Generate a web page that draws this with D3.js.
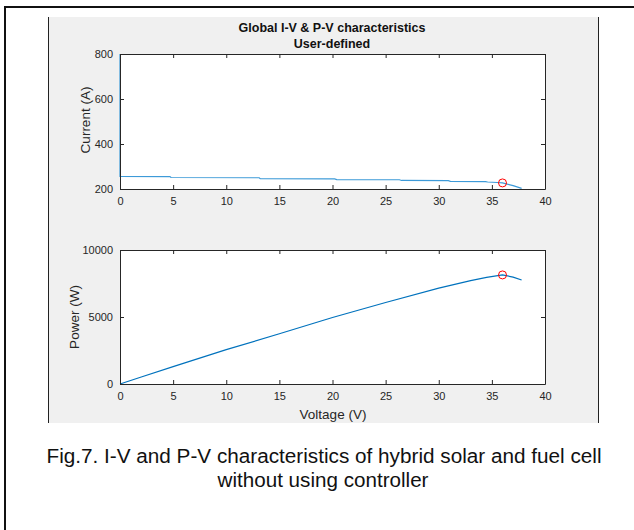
<!DOCTYPE html>
<meta charset="utf-8">
<style>
body { margin: 0; background: #fff; }
svg text { font-family: "Liberation Sans", Arial, sans-serif; }
.tick text { fill: #262626; font-size: 11px; }
</style>
<body>
<script src="https://d3js.org/d3.v7.min.js"></script>
<script>
// I-V curve
var ivVolt = [0, 0, 4.7, 4.8, 13.1, 13.2, 20.2, 20.4, 26.3, 26.5, 30.9, 31.1, 34.4, 34.6, 35.5, 36, 37, 37.8];
var ivCurr = [800, 256, 255, 251, 250, 246, 245, 242, 241, 238, 237, 234, 233, 231, 229, 227, 215, 203];
// P-V curve
var pvVolt = [0, 2, 5, 10, 15, 20, 25, 30, 33, 34.5, 36, 37, 37.8];
var pvPow = [0, 520, 1300, 2560, 3750, 4960, 6080, 7150, 7720, 7960, 8140, 7980, 7760];
// maximum power point
var mppVolt = 36, mppCurr = 227, mppPow = 8140;

var xTicks = [0, 5, 10, 15, 20, 25, 30, 35, 40];
var iTicks = [200, 400, 600, 800];
var pTicks = [0, 5000, 10000];

var svg = d3.select("body").append("svg")
    .attr("width", 634)
    .attr("height", 530);

// outer frame of the page
svg.append("path")
    .attr("d", "M5,530 L5,7 L634,7")
    .attr("fill", "none")
    .attr("stroke", "#111")
    .attr("stroke-width", 2);

// grey figure window
svg.append("rect")
    .attr("x", 48).attr("y", 17)
    .attr("width", 550).attr("height", 406)
    .attr("fill", "#f0f0f0");
svg.append("line").attr("x1", 48.5).attr("x2", 48.5).attr("y1", 17).attr("y2", 423).attr("stroke", "#222");
svg.append("line").attr("x1", 598.5).attr("x2", 598.5).attr("y1", 17).attr("y2", 423).attr("stroke", "#222");

var x = d3.scaleLinear().domain([0, 40]).range([120, 545]);
var yI = d3.scaleLinear().domain([200, 800]).range([189, 54]);
var yP = d3.scaleLinear().domain([0, 10000]).range([384, 250]);

function panel(y, yt, vx, vy, mx, my, col) {
  var top = y.range()[1], bot = y.range()[0];
  svg.append("rect")
      .attr("x", 120).attr("y", top)
      .attr("width", 425).attr("height", bot - top)
      .attr("fill", "#fff");

  var line = d3.line()
      .x(function(d) { return x(d[0]); })
      .y(function(d) { return y(d[1]); });
  svg.append("path")
      .datum(d3.zip(vx, vy))
      .attr("d", line)
      .attr("fill", "none")
      .attr("stroke", col)
      .attr("stroke-width", 1.2);

  svg.append("circle")
      .attr("cx", x(mx)).attr("cy", y(my)).attr("r", 4)
      .attr("fill", "none").attr("stroke", "#ff0000").attr("stroke-width", 1);

  // axes, MATLAB style: ticks inside, box on all sides
  var ax = svg.append("g").attr("transform", "translate(0," + bot + ")")
      .call(d3.axisBottom(x).tickValues(xTicks).tickSizeInner(-4).tickSizeOuter(0).tickPadding(8));
  var axT = svg.append("g").attr("transform", "translate(0," + top + ")")
      .call(d3.axisTop(x).tickValues(xTicks).tickSizeInner(-4).tickSizeOuter(0).tickFormat(""));
  var ay = svg.append("g").attr("transform", "translate(120,0)")
      .call(d3.axisLeft(y).tickValues(yt).tickSizeInner(-4).tickSizeOuter(0).tickPadding(7).tickFormat(d3.format("d")));
  var ayR = svg.append("g").attr("transform", "translate(545,0)")
      .call(d3.axisRight(y).tickValues(yt).tickSizeInner(-4).tickSizeOuter(0).tickFormat(""));
  [ax, axT, ay, ayR].forEach(function(g) {
    g.select(".domain").attr("stroke", "#262626").attr("stroke-width", 1);
    g.selectAll(".tick line").attr("stroke", "#262626");
  });
}

panel(yI, iTicks, ivVolt, ivCurr, mppVolt, mppCurr, "#3d9ad8");
panel(yP, pTicks, pvVolt, pvPow, mppVolt, mppPow, "#0072BD");

// titles and labels
svg.append("text").attr("x", 332).attr("y", 32).attr("text-anchor", "middle")
    .attr("font-size", "12.5px").attr("font-weight", "bold").attr("fill", "#111")
    .text("Global I-V & P-V characteristics");
svg.append("text").attr("x", 332).attr("y", 48).attr("text-anchor", "middle")
    .attr("font-size", "12.5px").attr("font-weight", "bold").attr("fill", "#111")
    .text("User-defined");
svg.append("text").attr("transform", "translate(90,120) rotate(-90)")
    .attr("text-anchor", "middle").attr("font-size", "13.5px").attr("fill", "#262626")
    .text("Current (A)");
svg.append("text").attr("transform", "translate(79,317) rotate(-90)")
    .attr("text-anchor", "middle").attr("font-size", "13.5px").attr("fill", "#262626")
    .text("Power (W)");
svg.append("text").attr("x", 333).attr("y", 419).attr("text-anchor", "middle")
    .attr("font-size", "13.5px").attr("fill", "#262626")
    .text("Voltage (V)");

// figure caption
svg.append("text").attr("x", 324).attr("y", 463).attr("text-anchor", "middle")
    .attr("font-size", "20px").attr("fill", "#111")
    .attr("textLength", 555).attr("lengthAdjust", "spacingAndGlyphs")
    .text("Fig.7. I-V and P-V characteristics of hybrid solar and fuel cell");
svg.append("text").attr("x", 323).attr("y", 487).attr("text-anchor", "middle")
    .attr("font-size", "20px").attr("fill", "#111")
    .attr("textLength", 211).attr("lengthAdjust", "spacingAndGlyphs")
    .text("without using controller");
</script>
</body>
